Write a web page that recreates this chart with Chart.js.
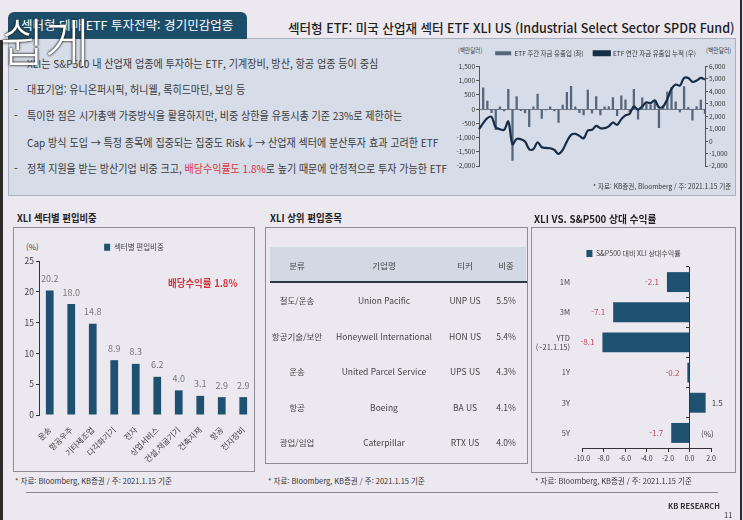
<!DOCTYPE html>
<html lang="ko">
<head>
<meta charset="utf-8">
<script src="https://cdn.jsdelivr.net/npm/chart.js@4.4.1/dist/chart.umd.min.js"></script>
<style>
body{margin:0;width:743px;height:520px;background:#ece8f0;position:relative;overflow:hidden;font-family:'Noto Sans CJK KR',sans-serif;color:#333}
.t{position:absolute;white-space:nowrap;transform-origin:0 50%}
.box{position:absolute;box-sizing:border-box}
.n{font-family:'Liberation Sans Narrow','Noto Sans CJK KR',sans-serif}
canvas{position:absolute}
</style>
</head>
<body>
<div class="box" style="left:0;top:40px;width:3px;height:480px;background:#2b2b2b"></div>
<div class="box" style="left:740px;top:0;width:2px;height:520px;background:#2b2b2b"></div>

<!-- upper panel -->
<div class="box" style="left:8px;top:38px;width:728px;height:158px;background:#d6dce8;border:1px solid #aab0bd"></div>
<div class="box" style="left:8px;top:12px;width:239px;height:27px;background:#1d4e69;border-radius:6px 6px 0 0"></div>
<div class="t" data-w="212" style="left:21px;top:17px;line-height:16px;font-size:12px;color:#fff">섹터형 테마 ETF 투자전략: 경기민감업종</div>
<div class="t" data-w="447" style="left:288px;top:19px;line-height:17px;font-size:13px;color:#1e1e1e;font-weight:500">섹터형 ETF: 미국 산업재 섹터 ETF XLI US (Industrial Select Sector SPDR Fund)</div>

<div class="t" style="left:14px;top:55px;line-height:16px;font-size:11px;color:#3a3a3a">-</div>
<div class="t" data-w="351" style="left:27px;top:55px;line-height:16px;font-size:11px;color:#3a3a3a">XLI는 S&amp;P500 내 산업재 업종에 투자하는 ETF, 기계장비, 방산, 항공 업종 등이 중심</div>
<div class="t" style="left:14px;top:81px;line-height:16px;font-size:11px;color:#3a3a3a">-</div>
<div class="t" data-w="218" style="left:27px;top:81px;line-height:16px;font-size:11px;color:#3a3a3a">대표기업: 유니온퍼시픽, 허니웰, 록히드마틴, 보잉 등</div>
<div class="t" style="left:14px;top:107px;line-height:16px;font-size:11px;color:#3a3a3a">-</div>
<div class="t" data-w="375" style="left:27px;top:107px;line-height:16px;font-size:11px;color:#3a3a3a">특이한 점은 시가총액 가중방식을 활용하지만, 비중 상한을 유동시총 기준 23%로 제한하는</div>
<div class="t" data-w="411" style="left:27px;top:134px;line-height:16px;font-size:11px;color:#3a3a3a">Cap 방식 도입 → 특정 종목에 집중되는 집중도 Risk↓→  산업재 섹터에 분산투자 효과 고려한 ETF</div>
<div class="t" style="left:14px;top:160px;line-height:16px;font-size:11px;color:#3a3a3a">-</div>
<div class="t" data-w="420" style="left:27px;top:160px;line-height:16px;font-size:11px;color:#3a3a3a">정책 지원을 받는 방산기업 비중 크고, <span style="color:#e0333c">배당수익률도 1.8%</span>로 높기 때문에 안정적으로 투자 가능한 ETF</div>

<div class="t" data-w="24" style="left:458px;top:45px;line-height:10px;font-size:6.5px;color:#444">(백만달러)</div>
<div class="t" data-w="25" style="left:706px;top:45px;line-height:10px;font-size:6.5px;color:#444">(백만달러)</div>
<canvas id="flow_chart" width="279" height="160" style="left:456px;top:36px"></canvas>
<div class="t" data-w="138" style="left:593px;top:181px;line-height:10px;font-size:7px;color:#333">* 자료: KB증권, Bloomberg / 주: 2021.1.15 기준</div>

<!-- watermark -->
<div class="t" data-w="90" style="left:0px;top:10px;line-height:60px;font-size:52px;font-weight:300;color:#fff;text-shadow:0 0 2px #222,0 0 3px #222">쉽게</div>

<!-- bottom titles -->
<div class="t" data-w="80" style="left:17px;top:211px;line-height:14px;font-size:10.5px;font-weight:700;color:#222">XLI 섹터별 편입비중</div>
<div class="t" data-w="72" style="left:270px;top:211px;line-height:14px;font-size:10.5px;font-weight:700;color:#222">XLI 상위 편입종목</div>
<div class="t" data-w="122" style="left:534px;top:212px;line-height:14px;font-size:10.5px;font-weight:700;color:#222">XLI VS. S&amp;P500 상대 수익률</div>

<div class="box" style="left:13px;top:227px;width:242px;height:245px;border:1px solid #8c8c94"></div>
<div class="box" style="left:265px;top:227px;width:263px;height:237px;border:1px solid #8c8c94"></div>
<div class="box" style="left:531px;top:227px;width:205px;height:246px;border:1px solid #8c8c94"></div>

<div class="t n" style="left:26px;top:242px;line-height:10px;font-size:8px;color:#444">(%)</div>
<canvas id="sector_chart" width="240" height="243" style="left:14px;top:228px"></canvas>
<div class="t" data-w="70" style="left:168px;top:276px;line-height:14px;font-size:10px;font-weight:700;color:#d0353d">배당수익률 1.8%</div>

<div class="box" style="left:270px;top:247px;width:256px;height:35px;background:#d2d9e5"></div>
<div class="box" style="left:270px;top:281px;width:257px;height:2px;background:#2d3845"></div>
<div id="holdings"></div>

<canvas id="rel_chart" width="203" height="244" style="left:532px;top:228px"></canvas>
<div class="t n" style="left:701px;top:429px;line-height:10px;font-size:8px;color:#444">(%)</div>

<div class="t" data-w="157" style="left:15px;top:476px;line-height:10px;font-size:7.5px;color:#333">* 자료: Bloomberg, KB증권 / 주: 2021.1.15 기준</div>
<div class="t" data-w="157" style="left:268px;top:476px;line-height:10px;font-size:7.5px;color:#333">* 자료: Bloomberg, KB증권 / 주: 2021.1.15 기준</div>
<div class="t" data-w="157" style="left:535px;top:476px;line-height:10px;font-size:7.5px;color:#333">* 자료: Bloomberg, KB증권 / 주: 2021.1.15 기준</div>

<div class="box" style="left:26px;top:492px;width:692px;height:1px;background:#8a8a8a"></div>
<div class="t n" style="left:668px;top:501px;line-height:10px;font-size:7.5px;font-weight:700;color:#333">KB RESEARCH</div>
<div class="t n" style="left:724px;top:510px;line-height:10px;font-size:7.5px;color:#333">11</div>

<script>
const weekLabels = [
    '20.1', '', '', '', '',
    '20.2', '', '', '',
    '20.3', '', '', '',
    '20.4', '', '', '',
    '20.5', '', '', '', '',
    '20.6', '', '', '',
    '20.7', '', '', '', '',
    '20.8', '', '', '',
    '20.9', '', '', '',
    '20.10', '', '', '', '',
    '20.11', '', '', '',
    '20.12', '', '', '',
    '21.1', '', ''
];
const weeklyFlow = [
    null, 750, 280, -120, -720, 80, -60, 700, -1800, 440,
    -50, -130, -620, 80, 530, -330, -30, 80, -60, -470,
    140, 590, 800, 80, -120, -200, 670, -140, 440, -200,
    80, 90, 410, -230, 470, 330, -100, 700, -350, 400,
    200, 150, 260, -650, 120, 610, 770, 260, -100, 790,
    60, -390, 90, 320, -150
];
const cumulativeFlow = [
    960, 1450, 1850, 1950, 1100, 960, 910, 1580, -250, 180,
    150, -30, -650, -650, -90, -490, -550, -570, -710, -1030,
    -710, -30, 500, 590, 420, 230, 850, 910, 1230, 1040,
    1040, 1180, 1500, 1310, 1770, 2070, 2200, 2790, 2530, 2790,
    3120, 3060, 3280, 2710, 2790, 3390, 4200, 4550, 4460, 5080,
    5080, 4760, 4870, 5080, 4950
];

const sectorNames = ['운송', '항공우주', '기타제조업', '다각화기기', '전자', '상업서비스', '건설,채굴기기', '건축자재', '항공', '전자장비'];
const sectorWeights = [20.2, 18.0, 14.8, 8.9, 8.3, 6.2, 4.0, 3.1, 2.9, 2.9];

const holdingHeaders = ['분류', '기업명', '티커', '비중'];
const holdingSectors = ['철도/운송', '항공기술/보안', '운송', '항공', '광업/임업'];
const holdingNames = ['Union Pacific', 'Honeywell International', 'United Parcel Service', 'Boeing', 'Caterpillar'];
const holdingTickers = ['UNP US', 'HON US', 'UPS US', 'BA US', 'RTX US'];
const holdingWeights = ['5.5%', '5.4%', '4.3%', '4.1%', '4.0%'];

const periodLabels = ['1M', '3M', ['YTD', '(~21.1.15)'], '1Y', '3Y', '5Y'];
const relReturn = [-2.1, -7.1, -8.1, -0.2, 1.5, -1.7];

const NARROW = "'Liberation Sans Narrow', 'Noto Sans CJK KR', sans-serif";
const KR = "'Noto Sans CJK KR', sans-serif";
const BAR_BLUE = '#1e5170';

// text width fitting
function fitTexts() {
    document.querySelectorAll('[data-w]').forEach(function (el) {
        el.style.transform = '';
        let w = parseFloat(el.dataset.w);
        let a = el.scrollWidth;
        if (a > 0) el.style.transform = 'scaleX(' + (w / a) + ')';
    });
}

// table
(function () {
    const host = document.getElementById('holdings');
    const colX = [297, 384, 465, 506];
    const colW = [70, 110, 50, 40];
    const rowY = [300, 336, 371, 407, 442];
    function cell(txt, cx, cy, w, font, size) {
        let d = document.createElement('div');
        d.className = 't';
        d.style.left = (cx - w / 2) + 'px';
        d.style.width = w + 'px';
        d.style.top = (cy - 6) + 'px';
        d.style.lineHeight = '12px';
        d.style.textAlign = 'center';
        d.style.fontSize = size + 'px';
        d.style.fontFamily = font;
        d.style.color = '#444';
        d.textContent = txt;
        host.appendChild(d);
    }
    holdingHeaders.forEach(function (h, j) { cell(h, colX[j], 265, colW[j], KR, 8.5); });
    for (let i = 0; i < holdingNames.length; i++) {
        cell(holdingSectors[i], colX[0], rowY[i], colW[0], KR, 8.5);
        cell(holdingNames[i], colX[1], rowY[i], colW[1], NARROW, 8.5);
        cell(holdingTickers[i], colX[2], rowY[i], colW[2], NARROW, 8.5);
        cell(holdingWeights[i], colX[3], rowY[i], colW[3], NARROW, 8.5);
    }
})();

const valueLabels = {
    id: 'valueLabels',
    afterDatasetsDraw(chart, args, opts) {
        let ctx = chart.ctx;
        let meta = chart.getDatasetMeta(0);
        let values = chart.data.datasets[0].data;
        ctx.save();
        ctx.font = opts.font;
        ctx.textBaseline = 'middle';
        meta.data.forEach(function (bar, i) {
            let v = values[i];
            let txt = v.toFixed(1);
            if (opts.horizontal) {
                if (v < 0) {
                    ctx.textAlign = 'right';
                    ctx.fillStyle = opts.negColor;
                    ctx.fillText(txt, bar.x - 8, bar.y);
                } else {
                    ctx.textAlign = 'left';
                    ctx.fillStyle = opts.posColor;
                    ctx.fillText(txt, bar.x + 6, bar.y);
                }
            } else {
                ctx.textAlign = 'center';
                ctx.fillStyle = opts.posColor;
                ctx.fillText(txt, bar.x, bar.y - 12);
            }
        });
        ctx.restore();
    }
};

function makeCharts() {
    // weekly flows + cumulative
    new Chart(document.getElementById('flow_chart'), {
        data: {
            labels: weekLabels,
            datasets: [
                {
                    type: 'line',
                    label: 'ETF 연간 자금 유출입 누적 (우)',
                    data: cumulativeFlow,
                    yAxisID: 'yCum',
                    borderColor: '#172c45',
                    backgroundColor: '#172c45',
                    borderWidth: 2.2,
                    pointRadius: 0,
                    tension: 0.35,
                    order: 1
                }, {
                    type: 'bar',
                    label: 'ETF 주간 자금 유출입 (좌)',
                    data: weeklyFlow,
                    yAxisID: 'yFlow',
                    backgroundColor: '#55667c',
                    barThickness: 1.6,
                    order: 2
                }
            ]
        },
        options: {
            responsive: false,
            animation: false,
            layout: { padding: { top: 4, bottom: 18 } },
            scales: {
                x: {
                    offset: false,
                    grid: { display: false },
                    border: { display: false },
                    ticks: { autoSkip: false, maxRotation: 0, padding: 3, color: '#333', font: { size: 6.5, family: NARROW } },
                    afterFit: (s) => { s.height = 12; }
                },
                yFlow: {
                    position: 'left',
                    min: -2000,
                    max: 1500,
                    ticks: {
                        stepSize: 500, padding: 1, color: '#333', font: { size: 6.5, family: NARROW },
                        callback: (v) => v.toLocaleString('en-US')
                    },
                    grid: {
                        color: (c) => (c.tick && c.tick.value === 0) ? '#6f7886' : 'rgba(0,0,0,0)',
                        tickColor: '#555',
                        tickLength: 3
                    },
                    border: { color: '#555' },
                    afterFit: (s) => { s.width = 23; }
                },
                yCum: {
                    position: 'right',
                    min: -2000,
                    max: 6000,
                    ticks: {
                        stepSize: 1000, padding: 1, color: '#333', font: { size: 6.5, family: NARROW },
                        callback: (v) => v.toLocaleString('en-US')
                    },
                    grid: { drawOnChartArea: false, tickColor: '#555', tickLength: 3 },
                    border: { color: '#555' },
                    afterFit: (s) => { s.width = 30; }
                }
            },
            plugins: {
                legend: {
                    reverse: true,
                    labels: { boxWidth: 16, boxHeight: 4, padding: 10, color: '#333', font: { size: 6.5, family: KR } }
                },
                tooltip: { enabled: false }
            }
        }
    });

    // sector weights
    new Chart(document.getElementById('sector_chart'), {
        type: 'bar',
        data: {
            labels: sectorNames,
            datasets: [{
                label: '섹터별 편입비중',
                data: sectorWeights,
                backgroundColor: BAR_BLUE,
                barPercentage: 0.36,
                categoryPercentage: 1
            }]
        },
        plugins: [valueLabels],
        options: {
            responsive: false,
            animation: false,
            layout: { padding: { top: 5, right: 0 } },
            scales: {
                x: {
                    grid: { display: false },
                    border: { display: false },
                    ticks: { minRotation: 45, maxRotation: 45, padding: 2, color: '#444', font: { size: 8, family: KR } },
                    afterFit: (s) => { s.height = 56; }
                },
                y: {
                    min: 0,
                    max: 25,
                    ticks: { stepSize: 5, padding: 2, color: '#444', font: { size: 8.5, family: NARROW } },
                    grid: { drawOnChartArea: false, tickColor: '#333', tickLength: 3 },
                    border: { color: '#333' },
                    afterFit: (s) => { s.width = 25; }
                }
            },
            plugins: {
                legend: {
                    labels: { boxWidth: 6, boxHeight: 7, padding: 10.5, color: '#444', font: { size: 7.5, family: KR } }
                },
                tooltip: { enabled: false },
                valueLabels: { font: "9px " + NARROW, posColor: '#777' }
            }
        }
    });

    // relative return vs S&P500
    new Chart(document.getElementById('rel_chart'), {
        type: 'bar',
        data: {
            labels: periodLabels,
            datasets: [{
                label: 'S&P500 대비 XLI 상대수익률',
                data: relReturn,
                backgroundColor: BAR_BLUE,
                barPercentage: 0.66,
                categoryPercentage: 1,
                yAxisID: 'y'
            }]
        },
        plugins: [valueLabels],
        options: {
            indexAxis: 'y',
            responsive: false,
            animation: false,
            layout: { padding: { top: 11 } },
            scales: {
                x: {
                    min: -10,
                    max: 2,
                    ticks: {
                        stepSize: 2, padding: 2, minRotation: 0, maxRotation: 0, autoSkip: false,
                        color: '#333', font: { size: 7, family: NARROW },
                        callback: (v) => v.toFixed(1)
                    },
                    grid: { drawOnChartArea: false, tickColor: '#333', tickLength: 4 },
                    border: { color: '#333' },
                    afterFit: (s) => { s.height = 24; }
                },
                y: {
                    position: 'left',
                    grid: { display: false },
                    border: { display: false },
                    ticks: { padding: 4, color: '#444', font: { size: 7.5, family: NARROW } },
                    afterFit: (s) => { s.width = 50; }
                },
                y0: {
                    type: 'category',
                    position: { x: 0 },
                    offset: true,
                    ticks: { display: false },
                    grid: { drawOnChartArea: false, offset: true, tickColor: '#333', tickLength: 3 },
                    border: { color: '#333' }
                },
                yR: {
                    type: 'category',
                    position: 'right',
                    ticks: { display: false },
                    grid: { display: false },
                    border: { display: false },
                    afterFit: (s) => { s.width = 24; }
                }
            },
            plugins: {
                legend: {
                    labels: { boxWidth: 6, boxHeight: 7, padding: 11, color: '#444', font: { size: 7, family: KR } }
                },
                tooltip: { enabled: false },
                valueLabels: { horizontal: true, font: "8px " + NARROW, negColor: '#c04a5c', posColor: '#444' }
            }
        }
    });
}

window.addEventListener('load', function () {
    fitTexts();
    makeCharts();
});
</script>
</body>
</html>
